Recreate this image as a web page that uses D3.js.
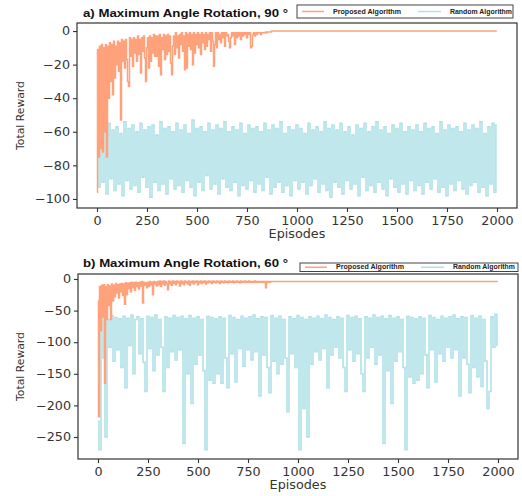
<!DOCTYPE html>
<html>
<head>
<meta charset="utf-8">
<script src="https://cdn.jsdelivr.net/npm/d3@7"></script>
<style>
body { margin: 0; background: #fff; }
svg { display: block; }
</style>
</head>
<body>
<svg id="chart" width="522" height="496"></svg>
<script>
// episodes axis ticks, shared by both panels
var xTicks = [0, 250, 500, 750, 1000, 1250, 1500, 1750, 2000];
var yTicksA = [0, -20, -40, -60, -80, -100];
var yTicksB = [0, -50, -100, -150, -200, -250];
var lastEpisode = 1999;

// proposed algorithm, one value every 5 episodes from 0 to 900, flat afterwards
var propStep = 5;
var proposedA = [
	-96,-11,-75,-9,-70,-8,-72,-10,-60,-8,-75,-9,-40,-7,-30,-8,-38,-6,-28,-9,
	-20,-6,-24,-7,-53,-5,-18,-6,-22,-5,-17,-30,-33,-4,-15,-5,-21,-4,-13,-5,
	-18,-3,-14,-5,-25,-4,-12,-3,-16,-30,-10,-4,-22,-3,-18,-4,-13,-2,-15,-3,
	-15,-3,-21,-2,-26,-4,-11,-2,-17,-3,-14,-2,-12,-3,-19,-26,-9,-3,-14,-1,
	-10,-3,-16,-2,-8,-1,-12,-3,-23,-1,-22,-2,-9,-1,-11,-2,-20,-1,-13,-2,
	-8,-1,-10,-2,-14,-1,-7,-2,-11,-1,-9,-2,-5,-1,-12,-1,-6,-21,-8,-1,
	-10,-1,-5,-2,-7,-1,-4,-1,-9,-1,-3,-2,-6,-10,-4,-1,-3,-1,-8,-1,
	-4,-1,-3,-1,-5,-1,-3,-1,-2,-1,-4,-1,-2,-1,-10,-9,-2,-1,-3,-1,
	-2,-1,-1,-1,-2,-1,-1,-1,-1,-0.5,-1,-0.5,-0.5,-0.5,-0.5,0,0,0,0,0,
	0
];
var proposedB = [
	-35,-218,-12,-82,-10,-60,-9,-165,-12,-64,-9,-42,-11,-64,-8,-35,-10,-28,-7,-22,
	-9,-30,-8,-20,-7,-26,-8,-40,-6,-25,-7,-15,-6,-20,-5,-14,-6,-18,-5,-12,
	-6,-16,-5,-11,-4,-38,-5,-10,-6,-14,-5,-12,-4,-9,-5,-25,-4,-8,-5,-11,
	-4,-9,-3,-12,-4,-8,-3,-10,-4,-7,-17,-3,-8,-4,-10,-3,-7,-4,-9,-3,
	-6,-4,-11,-3,-7,-4,-9,-3,-6,-4,-8,-3,-10,-4,-6,-3,-8,-4,-5,-3,
	-9,-4,-6,-3,-7,-4,-5,-3,-8,-4,-6,-3,-5,-4,-7,-3,-5,-4,-6,-3,
	-5,-4,-7,-3,-5,-4,-6,-3,-5,-4,-6,-3,-5,-4,-5,-3,-6,-4,-5,-3,
	-5,-4,-6,-3,-5,-4,-5,-3,-5,-4,-5,-3,-5,-4,-5,-4,-5,-3,-5,-4,
	-5,-4,-5,-4,-5,-4,-5,-4,-14,-4,-5,-4,-5,-4,-4,-4,-4,-4,-4,-4,
	-4
];

// random algorithm, one value every 10 episodes (last one at 1999)
var randStep = 10;
var randomA = [
	-58,-93,-56,-90,-60,-97,-55,-88,-59,-95,-57,-91,-61,-98,-54,-89,-58,-94,-56,-92,
	-60,-96,-55,-87,-59,-93,-57,-99,-56,-90,-62,-95,-54,-91,-58,-97,-57,-88,-60,-94,
	-55,-92,-59,-96,-56,-89,-61,-93,-53,-98,-58,-90,-57,-95,-60,-86,-55,-94,-59,-91,
	-56,-97,-58,-88,-54,-93,-60,-95,-57,-90,-59,-98,-55,-92,-61,-94,-56,-89,-58,-96,
	-57,-91,-60,-95,-55,-87,-59,-97,-56,-93,-58,-90,-54,-96,-61,-92,-57,-98,-59,-89,
	-56,-94,-58,-90,-61,-97,-55,-92,-59,-88,-57,-96,-60,-91,-54,-95,-58,-99,-56,-90,
	-59,-93,-55,-97,-60,-89,-57,-94,-62,-91,-56,-98,-58,-87,-55,-95,-60,-92,-57,-96,
	-54,-90,-59,-94,-57,-98,-61,-88,-56,-93,-58,-96,-55,-91,-60,-97,-57,-89,-59,-95,
	-56,-92,-60,-97,-55,-90,-58,-94,-57,-88,-61,-96,-54,-93,-59,-98,-56,-91,-58,-95,
	-57,-89,-60,-94,-55,-97,-59,-92,-56,-90,-58,-96,-54,-93,-61,-98,-57,-91,-55,-96,
	-56
];
var randomB = [
	-225,-270,-60,-125,-250,-64,-108,-58,-130,-61,-112,-63,-140,-59,-172,-62,-105,-57,-150,-64,
	-60,-118,-63,-132,-178,-59,-110,-61,-145,-57,-120,-64,-108,-178,-60,-140,-62,-115,-58,-128,
	-61,-112,-59,-260,-63,-150,-58,-197,-62,-135,-60,-120,-64,-145,-270,-59,-160,-61,-165,-63,
	-150,-60,-165,-62,-125,-172,-58,-118,-61,-163,-64,-110,-59,-138,-62,-112,-60,-128,-57,-115,
	-63,-185,-60,-120,-61,-140,-180,-58,-130,-62,-150,-59,-135,-64,-125,-210,-60,-118,-63,-140,
	-58,-270,-61,-205,-64,-250,-60,-135,-62,-115,-59,-128,-63,-110,-57,-172,-61,-120,-64,-108,
	-60,-125,-62,-140,-178,-58,-112,-61,-130,-59,-118,-63,-150,-178,-60,-125,-62,-108,-57,-135,
	-61,-120,-59,-260,-63,-145,-58,-197,-62,-130,-60,-115,-64,-140,-270,-59,-155,-61,-165,-63,
	-160,-60,-150,-62,-120,-172,-58,-112,-61,-163,-64,-118,-59,-130,-62,-108,-60,-125,-57,-112,
	-63,-185,-60,-125,-61,-135,-180,-58,-140,-62,-155,-59,-170,-64,-130,-205,-178,-60,-108,-56,
	-105
];

var propColor = "#ffa27c";
var randColor = "#b0e2e8";
var stretch = 1.12;  // the source picture is a bit wider than tall

var svg = d3.select("#chart");

function drawPanel(p) {
	var x = d3.scaleLinear().domain([-100, 2100]).range([p.left, p.right]);
	var y = d3.scaleLinear().domain(p.yDomain).range([p.bottom, p.top]);

	// dense episode data reads as vertical strokes, so step between samples
	var line = d3.line()
		.curve(d3.curveStep)
		.x(function(d){ return x(d[0]) })
		.y(function(d){ return y(d[1]) });

	var randPts = p.random.map(function(v, i){ return [Math.min(i * randStep, lastEpisode), v] });
	var propPts = p.proposed.map(function(v, i){ return [i * propStep, v] });
	propPts.push([lastEpisode, p.proposed[p.proposed.length - 1]]);

	svg.append("path").datum(randPts)
		.attr("d", line).attr("fill", "none")
		.attr("stroke", randColor).attr("stroke-width", 1.6);

	svg.append("path").datum(propPts)
		.attr("d", line).attr("fill", "none")
		.attr("stroke", propColor).attr("stroke-width", 1.5);

	// axes
	var gx = svg.append("g")
		.attr("transform", "translate(0," + p.bottom + ")")
		.call(d3.axisBottom(x).tickValues(xTicks).tickFormat(d3.format("d")).tickSize(4).tickPadding(4.5));
	var gy = svg.append("g")
		.attr("transform", "translate(" + p.left + ",0)")
		.call(d3.axisLeft(y).tickValues(p.yTicks).tickSize(4).tickPadding(3));
	[gx, gy].forEach(function(g){
		g.select(".domain").remove();
		g.selectAll("line").attr("stroke", "#333").attr("stroke-width", 1.1);
		g.selectAll("text").attr("class", "stretch")
			.style("font-family", "DejaVu Sans").style("font-size", "11.4px").attr("fill", "#333");
	});

	svg.append("rect")
		.attr("x", p.left).attr("y", p.top)
		.attr("width", p.right - p.left).attr("height", p.bottom - p.top)
		.attr("fill", "none").attr("stroke", "#333").attr("stroke-width", 1.2);

	svg.append("text").attr("class", "stretch")
		.attr("x", (p.left + p.right) / 2).attr("y", p.bottom + 30)
		.attr("text-anchor", "middle")
		.style("font-family", "DejaVu Sans").style("font-size", "11.4px").attr("fill", "#333")
		.text("Episodes");

	svg.append("text")
		.attr("transform", "translate(24," + (p.top + p.bottom) / 2 + ") rotate(-90)")
		.attr("text-anchor", "middle")
		.style("font-family", "DejaVu Sans").style("font-size", "10.8px").attr("fill", "#333")
		.text("Total Reward");

	// title
	svg.append("text")
		.attr("x", 83).attr("y", p.titleY)
		.attr("textLength", 205).attr("lengthAdjust", "spacingAndGlyphs")
		.style("font-family", "Liberation Sans").style("font-weight", "bold").style("font-size", "11.6px")
		.attr("fill", "#111")
		.text(p.title);

	// legend
	var lg = p.legend;
	svg.append("rect")
		.attr("x", lg.x).attr("y", lg.y).attr("width", lg.w).attr("height", lg.h)
		.attr("fill", "#fff").attr("stroke", "#444").attr("stroke-width", 1);
	var cy = lg.y + lg.h / 2;
	var items = [
		{name: "Proposed Algorithm", color: propColor, x0: lg.x + 5, x1: lg.x + 27, tx: lg.x + 36, tw: 68},
		{name: "Random Algorithm", color: randColor, x0: lg.x + 121, x1: lg.x + 144, tx: lg.x + 153, tw: 62}
	];
	items.forEach(function(it){
		svg.append("line")
			.attr("x1", it.x0).attr("x2", it.x1).attr("y1", cy).attr("y2", cy)
			.attr("stroke", it.color).attr("stroke-width", 1.5);
		svg.append("text")
			.attr("x", it.tx).attr("y", cy + 2.2)
			.attr("textLength", it.tw).attr("lengthAdjust", "spacingAndGlyphs")
			.style("font-family", "Liberation Sans").style("font-weight", "bold").style("font-size", "6.3px")
			.attr("fill", "#222")
			.text(it.name);
	});
}

drawPanel({
	left: 77, right: 517, top: 23, bottom: 208,
	yDomain: [-105.4, 4.8], yTicks: yTicksA,
	proposed: proposedA, random: randomA,
	title: "a) Maximum Angle Rotation, 90 °", titleY: 17,
	legend: {x: 297, y: 5, w: 216, h: 13}
});

drawPanel({
	left: 78, right: 518, top: 274, bottom: 459,
	yDomain: [-284.8, 7.9], yTicks: yTicksB,
	proposed: proposedB, random: randomB,
	title: "b) Maximum Angle Rotation, 60 °", titleY: 267,
	legend: {x: 300, y: 263, w: 218, h: 8.5}
});

// widen the axis texts like in the source image
svg.selectAll("text.stretch").each(function(){
	var w = this.getComputedTextLength();
	d3.select(this).attr("textLength", w * stretch).attr("lengthAdjust", "spacingAndGlyphs");
});
</script>
</body>
</html>
